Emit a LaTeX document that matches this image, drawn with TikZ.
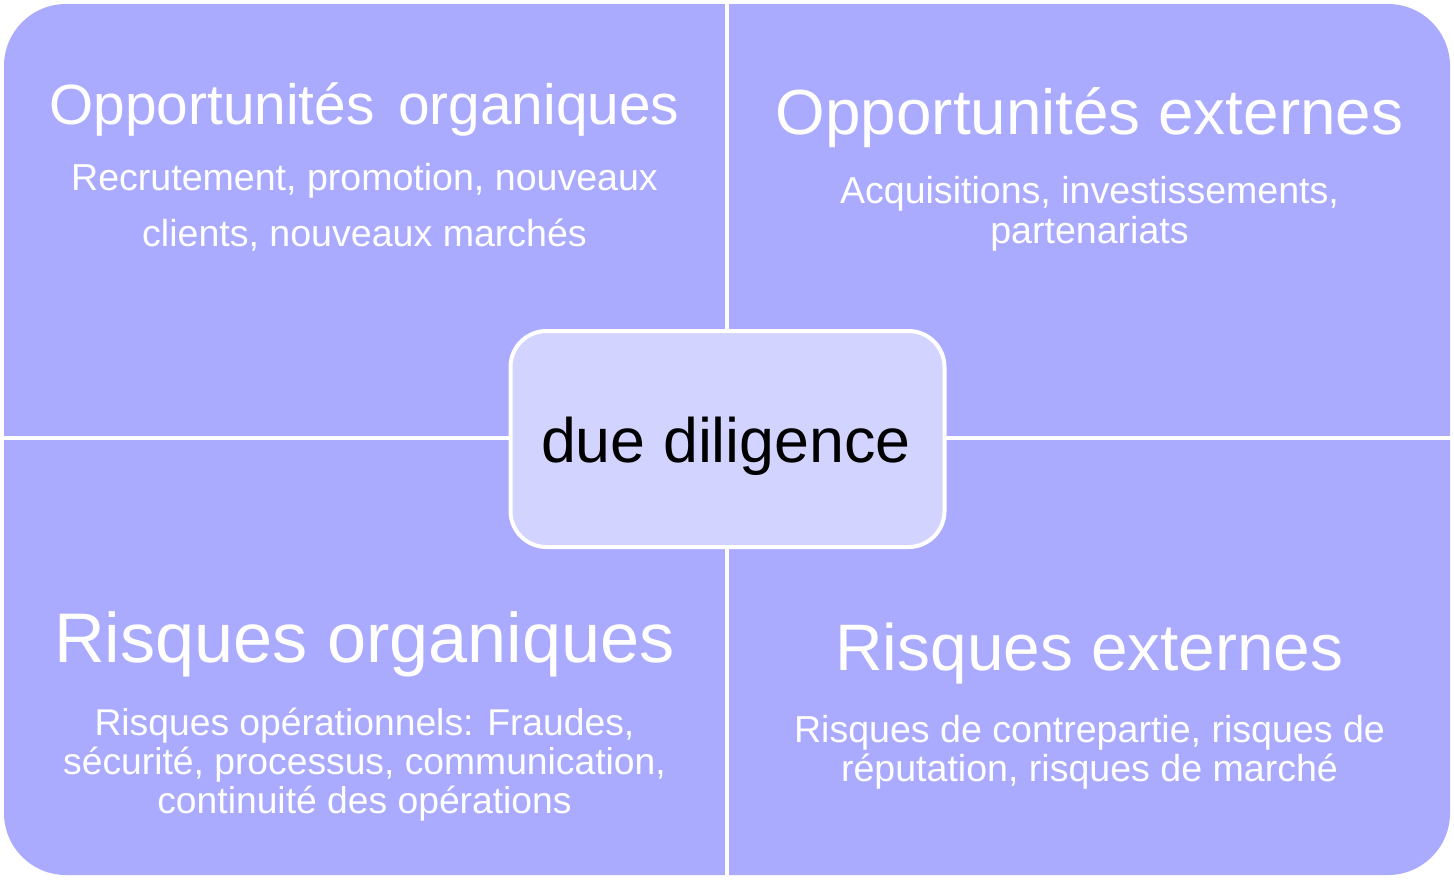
\documentclass[tikz,border=0pt]{standalone}
\usepackage{fontspec}
\setmainfont{Liberation Sans}
\definecolor{quadfill}{RGB}{170,170,255}
\definecolor{centerfill}{RGB}{211,211,255}
\tikzset{
  quad/.style={fill=quadfill, rounded corners=62bp},
  sep/.style={draw=white, line width=4bp},
  title/.style={text=white, anchor=base, inner sep=0pt},
  sub/.style={text=white, anchor=base, inner sep=0pt, align=center},
  centerbox/.style={fill=centerfill, draw=white, line width=4bp, rounded corners=36bp,
    minimum width=434bp, minimum height=216bp, inner sep=0pt}
}
\begin{document}
\begin{tikzpicture}[x=1bp, y=-1bp]
\useasboundingbox (0,0) rectangle (1454,879);
% background panel
\fill[quad] (4,4) rectangle (1450,875);
% separators
\coordinate (vt) at (727,0);
\coordinate (vb) at (727,879);
\coordinate (hl) at (0,438);
\coordinate (hr) at (1454,438);
\draw[sep] (vt) -- (vb);
\draw[sep] (hl) -- (hr);
% top-left
\node[title, font=\fontsize{57}{60}\selectfont] (tlt) at (364.5,124) {Opportunités\hspace{0.14em} organiques};
\node[sub, font=\fontsize{37.7}{56}\selectfont] (tls) at (364.5,246) {Recrutement, promotion, nouveaux\\clients, nouveaux marchés};
% top-right
\node[title, font=\fontsize{64}{68}\selectfont] (trt) at (1089.5,134) {Opportunités externes};
\node[sub, font=\fontsize{37.7}{40}\selectfont] (trs) at (1089.5,243) {Acquisitions, investissements,\\partenariats};
% bottom-left
\node[title, font=\fontsize{70.5}{74}\selectfont] (blt) at (364.5,662) {Risques organiques};
\node[sub, font=\fontsize{37.4}{39}\selectfont] (bls) at (364.5,813) {Risques opérationnels: Fraudes,\\sécurité, processus, communication,\\continuité des opérations};
% bottom-right
\node[title, font=\fontsize{66}{70}\selectfont] (brt) at (1089.5,670) {Risques externes};
\node[sub, font=\fontsize{37.7}{39}\selectfont] (brs) at (1089.5,781) {Risques de contrepartie, risques de\\réputation, risques de marché};
% center
\node[centerbox] (dd) at (727.5,439) {};
\node[anchor=base, inner sep=0pt, font=\fontsize{63}{66}\selectfont] (ddt) at (726,462) {due diligence};
\end{tikzpicture}
\end{document}
